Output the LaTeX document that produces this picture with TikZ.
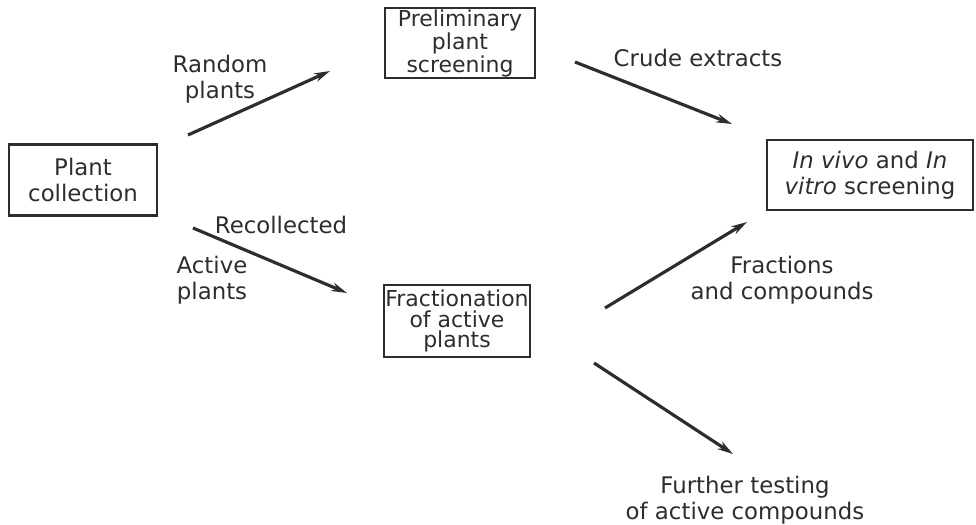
\documentclass[tikz,border=0pt]{standalone}
\usepackage{fontspec}
\setmainfont{DejaVu Sans}
\usepackage{tikz}
\usetikzlibrary{arrows.meta}

\definecolor{ink}{RGB}{45,45,45}
\tikzset{
  stage/.style={draw=ink, text=ink, line width=1.2pt, align=center, inner sep=0pt,
    font=\fontsize{13}{15}\selectfont},
  tight/.style={font=\fontsize{12.5}{11.8}\selectfont},
  lbl/.style={text=ink, align=center, font=\fontsize{13}{15}\selectfont},
  flow/.style={draw=ink, line width=1.8pt, -{Stealth[length=9pt,width=5pt]}}
}

\begin{document}
\begin{tikzpicture}[x=0.02cm,y=-0.02cm]
		\useasboundingbox (0,0) rectangle (976,524);
		% boxes
		\node [stage, minimum width=148*0.02cm, minimum height=71*0.02cm] (coll)   at (83,180)  {Plant\\collection};
		\node [stage, tight, minimum width=150*0.02cm, minimum height=70*0.02cm] (prelim) at (460,43)  {Preliminary\\plant\\screening};
		\node [stage, minimum width=206*0.02cm, minimum height=70*0.02cm] (screen) at (870,175) {\textit{In vivo} and \textit{In}\\\textit{vitro} screening};
		\node [stage, tight, minimum width=146*0.02cm, minimum height=72*0.02cm] (fract)  at (457,321) {Fractionation\\of active\\plants};
		\node [lbl] (further) at (745,500) {Further testing\\of active compounds};
		% arrow ends
		\coordinate (rs) at (188,135); \coordinate (re) at (330,71);
		\coordinate (cs) at (575,62);  \coordinate (ce) at (732,124);
		\coordinate (as) at (193,228); \coordinate (ae) at (347,293);
		\coordinate (fs) at (605,308); \coordinate (fe) at (747,222);
		\coordinate (ts) at (594,363); \coordinate (te) at (733,454);
		\draw [flow] (rs) -- (re);
		\draw [flow] (cs) -- (ce);
		\draw [flow] (as) -- (ae);
		\draw [flow] (fs) -- (fe);
		\draw [flow] (ts) -- (te);
		% labels
		\node [lbl] (random)  at (220,79)  {Random\\plants};
		\node [lbl] (crude)   at (698,58)  {Crude extracts};
		\node [lbl] (recoll)  at (281,225) {Recollected};
		\node [lbl] (active)  at (212,280) {Active\\plants};
		\node [lbl] (fracts)  at (782,280) {Fractions\\and compounds};
	\end{tikzpicture}
\end{document}
